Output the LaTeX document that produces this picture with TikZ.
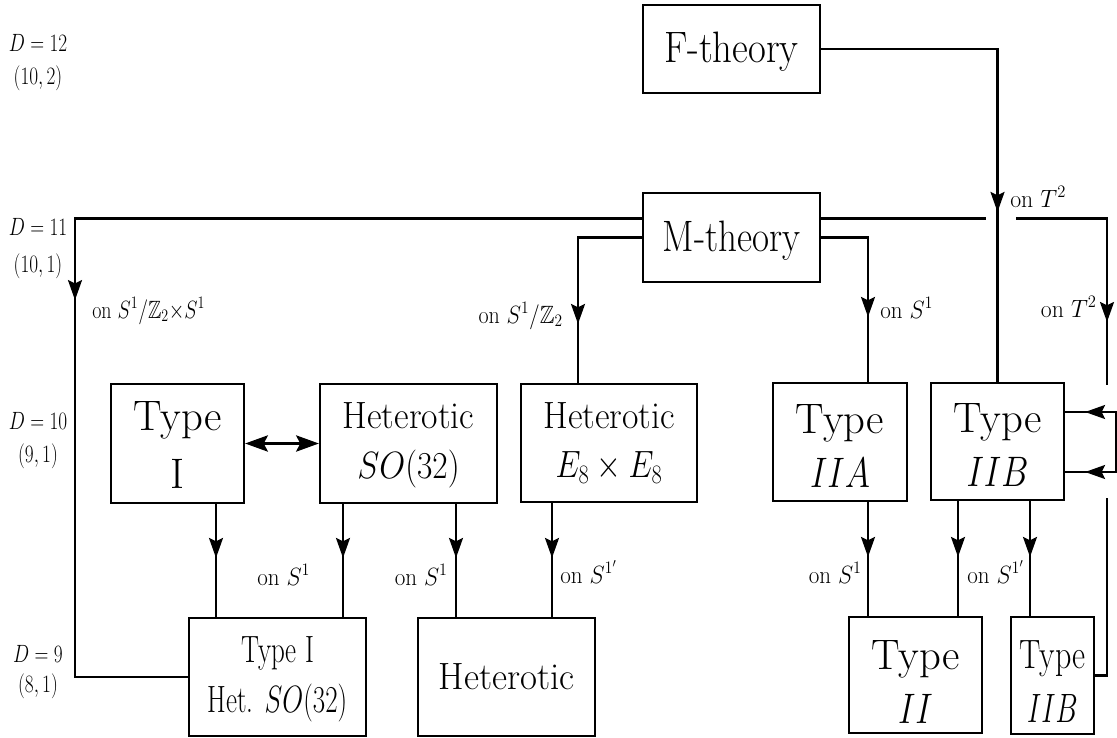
\RequirePackage{fix-cm}
\documentclass[tikz,border=0pt]{standalone}
\usepackage{amssymb}
\usepackage{graphicx}
\usetikzlibrary{arrows.meta,decorations.markings}
% horizontally condensed text
\newcommand\hsq[2]{\scalebox{#1}[1]{#2}}
% invisible strut that sets the height of a first line
\newcommand\lift[1]{\rule{0pt}{#1}}
\tikzset{
  box/.style={draw, line width=1.6pt, inner sep=0pt, align=center},
  wire/.style={line width=1.6pt},
  >={Stealth[length=15pt,width=10.5pt,inset=2.5pt]},
  arrowat/.style={postaction={decorate,decoration={markings,mark=at position #1 with {\arrow{>}}}}},
  lab/.style={inner sep=0pt, font=\fontsize{18.75}{22}\selectfont},
  dlab/.style={lab, anchor=base},
  bigtip/.style={line width=2.6pt, {Stealth[length=17pt,width=12pt,inset=3pt]}-{Stealth[length=17pt,width=12pt,inset=3pt]}},
}
\begin{document}
\begin{tikzpicture}[x=0.75pt,y=-0.75pt]
\useasboundingbox (0,0) rectangle (1117,738);
\fill[white] (0,0) rectangle (1117,738);

% dimension labels on the left
\node[dlab] (d12)  at (38,52)  {\hsq{0.77}{$D=12$}};
\node[dlab] (d12s) at (38,85)  {\hsq{0.77}{$(10,2)$}};
\node[dlab] (d11)  at (38,235) {\hsq{0.77}{$D=11$}};
\node[dlab] (d11s) at (38,272) {\hsq{0.77}{$(10,1)$}};
\node[dlab] (d10)  at (38,429) {\hsq{0.77}{$D=10$}};
\node[dlab] (d10s) at (38,462) {\hsq{0.77}{$(9,1)$}};
\node[dlab] (d9)   at (38,662) {\hsq{0.77}{$D=9$}};
\node[dlab] (d9s)  at (38,692) {\hsq{0.77}{$(8,1)$}};

% theories
\node[box, minimum width=132.75pt, minimum height=66pt, font=\fontsize{33}{40}\selectfont]
  (F) at (731.5,49) {\lift{27.4pt}\hsq{0.88}{F-theory}};
\node[box, minimum width=132.75pt, minimum height=66.75pt, font=\fontsize{33}{40}\selectfont]
  (M) at (731.5,237.5) {\lift{28pt}\hsq{0.84}{M-theory}};

\node[box, minimum width=99.75pt, minimum height=89.25pt, font=\fontsize{32}{43.5}\selectfont]
  (TI) at (177.5,443.5) {\lift{23.25pt}Type\\I};
\node[box, minimum width=132.75pt, minimum height=89.25pt, font=\fontsize{28.5}{37}\selectfont]
  (HSO) at (408.5,443.5) {\lift{22pt}\hsq{0.94}{Heterotic}\\\hsq{0.88}{$SO(32)$}};
\node[box, minimum width=132pt, minimum height=88.5pt, font=\fontsize{28.5}{37}\selectfont]
  (HE8) at (609,443) {\hsq{0.94}{Heterotic}\\\hsq{0.84}{$E_8\times E_8$}};
\node[box, minimum width=100.5pt, minimum height=88.5pt, font=\fontsize{32}{40.5}\selectfont]
  (IIA) at (840,442) {\lift{27pt}Type\\\hsq{0.8}{$IIA$}};
\node[box, minimum width=99.75pt, minimum height=87.75pt, font=\fontsize{32}{40}\selectfont]
  (IIB) at (997.5,441.5) {\lift{27pt}Type\\\hsq{0.8}{$IIB$}};

\node[box, minimum width=132.75pt, minimum height=88.5pt, font=\fontsize{28.5}{37}\selectfont]
  (TIH) at (277.5,677) {\lift{22.9pt}\hsq{0.71}{Type I}\\\hsq{0.71}{Het. $SO(32)$}};
\node[box, minimum width=132.75pt, minimum height=88.5pt, font=\fontsize{28.5}{37}\selectfont]
  (Het) at (506.5,677) {\hsq{0.97}{Heterotic}};
\node[box, minimum width=99.75pt, minimum height=87pt, font=\fontsize{32}{40}\selectfont]
  (TII) at (915.5,675) {\lift{32.25pt}Type\\\hsq{0.8}{$II$}};
\node[box, minimum width=62.25pt, minimum height=87.75pt, font=\fontsize{30.75}{41}\selectfont]
  (IIBs) at (1052.5,675.5) {\lift{30pt}\hsq{0.78}{Type}\\\hsq{0.68}{$IIB$}};

% connector end points
\coordinate (Mw) at ([yshift=14.25pt]M.west);
\coordinate (Me) at ([yshift=14.25pt]M.east);
\coordinate (lc) at (75,677);
\coordinate (xe8) at ([xshift=-23.25pt]HE8.north);
\coordinate (xa) at ([xshift=21pt]IIA.north);
\coordinate (g1) at (986,218.5);
\coordinate (g2) at (1016,218.5);
\coordinate (rd) at (1107,385);
\coordinate (b1) at (1116,412);
\coordinate (b2) at (1116,472);
\coordinate (lb) at (1107,498);

% compactifications from F- and M-theory
\draw[wire, arrowat=-127.5pt] (F.east) -| (IIB.north);
\draw[wire, arrowat=486.4pt] (Mw) -| (lc) -- (TIH.west);
\draw[wire, arrowat=-44.25pt] (M.west) -| (xe8);
\draw[wire, arrowat=-48.75pt] (M.east) -| (xa);
\draw[wire] (Me) -- (g1);
\draw[wire, arrowat=-47.25pt] (g2) -| (rd);

% IIB self-duality bracket
\draw[wire, arrowat=-15pt] (b2) -- (b1) -- (b1 -| IIB.east);
\draw[wire, arrowat=-15pt] (b1) -- (b2) -- (b2 -| IIB.east);
\draw[wire] (lb) |- (IIBs.east);

% Type I -- heterotic SO(32) duality
\draw[bigtip] (TI.east) -- (HSO.west);

% circle compactifications down to nine dimensions
\coordinate (s1) at ([xshift=28.875pt]TI.south);
\coordinate (s2) at ([xshift=-49.125pt]HSO.south);
\coordinate (s3) at ([xshift=35.625pt]HSO.south);
\coordinate (s4) at ([xshift=-42.75pt]HE8.south);
\coordinate (s5) at ([xshift=21pt]IIA.south);
\coordinate (s6) at ([xshift=-29.625pt]IIB.south);
\coordinate (s7) at ([xshift=24.375pt]IIB.south);
\draw[wire, arrowat=-44.25pt] (s1) -- (s1 |- TIH.north);
\draw[wire, arrowat=-44.25pt] (s2) -- (s2 |- TIH.north);
\draw[wire, arrowat=-44.25pt] (s3) -- (s3 |- Het.north);
\draw[wire, arrowat=-44.25pt] (s4) -- (s4 |- Het.north);
\draw[wire, arrowat=-44.25pt] (s5) -- (s5 |- TII.north);
\draw[wire, arrowat=-44.25pt] (s6) -- (s6 |- TII.north);
\draw[wire, arrowat=-44.25pt] (s7) -- (s7 |- IIBs.north);

% compactification labels
\node[lab, anchor=base west] (l1) at (92,318) {\hsq{0.8}{on $S^1/\mathbb{Z}_2{\times}S^1$}};
\node[lab, anchor=base east] (l2) at (563,323) {\hsq{0.88}{on $S^1/\mathbb{Z}_2$}};
\node[lab, anchor=base west] (l3) at (880,318) {\hsq{0.92}{on $S^1$}};
\node[lab, anchor=base west] (l4) at (1010,207) {\hsq{0.95}{on $T^2$}};
\node[lab, anchor=base east] (l5) at (1097,317) {\hsq{0.95}{on $T^2$}};
\node[lab, anchor=base west] (l6) at (257,585) {\hsq{0.92}{on $S^1$}};
\node[lab, anchor=base east] (l7) at (448,585) {\hsq{0.92}{on $S^1$}};
\node[lab, anchor=base west] (l8) at (560,583) {\hsq{0.92}{on $S^{1'}$}};
\node[lab, anchor=base east] (l9) at (862,583) {\hsq{0.92}{on $S^1$}};
\node[lab, anchor=base west] (l10) at (967,583) {\hsq{0.92}{on $S^{1'}$}};
\end{tikzpicture}
\end{document}
